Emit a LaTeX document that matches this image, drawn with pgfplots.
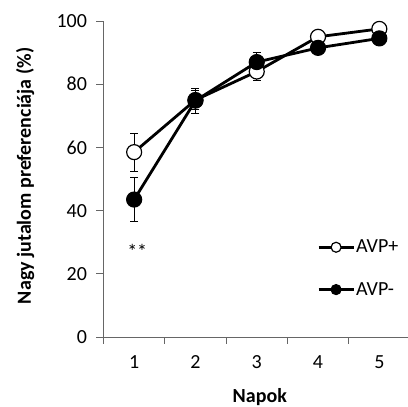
\documentclass[border=0pt]{standalone}
\usepackage{pgfplots}
\pgfplotsset{compat=1.18}
\usepackage{fontspec}
\setmainfont{Carlito}
\begin{document}
\begin{tikzpicture}
\useasboundingbox (-103.5pt,-70pt) rectangle (304.5pt,337pt);
\begin{axis}[
  at={(0pt,0pt)}, anchor=south west,
  scale only axis, width=306.5pt, height=316pt,
  xmin=0.5, xmax=5.5, ymin=0, ymax=100,
  axis x line*=bottom, axis y line*=left,
  axis line style={draw=gray!80!black, line width=0.9pt},
  every tick/.style={draw=gray!80!black, line width=0.9pt},
  tick align=outside,
  xtick={1,2,3,4,5}, major x tick style={draw=none},
  minor xtick={0.5,1.5,2.5,3.5,4.5},
  major tick length=7pt, minor tick length=7pt,
  ytick={0,20,40,60,80,100},
  /pgf/number format/assume math mode=true,
  tick label style={font=\fontsize{20}{24}\selectfont},
  xticklabel style={yshift=-8pt},
  yticklabel style={xshift=-6pt},
  label style={font=\bfseries\fontsize{20}{24}\selectfont},
  xlabel={Napok}, ylabel={Nagy jutalom preferenciája (\%)},
  xlabel style={at={(axis description cs:0.51,-0.207)}, anchor=base},
  ylabel style={at={(axis description cs:-0.256,0.51)}, anchor=center},
  legend style={draw=none, fill=none, at={(axis cs:3.983,21.7)}, anchor=west,
    inner xsep=0pt, inner ysep=0pt,
    font=\fontsize{20}{24}\selectfont, row sep=24pt,
    nodes={inner xsep=1pt}},
  legend cell align=left,
  legend image code/.code={
    \draw[mark repeat=2, mark phase=2, mark size=5pt, line width=2.8pt]
      plot coordinates {(0pt,0pt) (17.5pt,0pt) (35pt,0pt)};
  },
]
\addplot[black, line width=2.8pt, mark=*, mark size=7.5pt,
  mark options={fill=white, draw=black, line width=1.2pt},
  error bars/.cd, y dir=both, y explicit,
  error bar style={line width=0.7pt, black},
  error mark options={rotate=90, mark size=4pt, line width=0.7pt, black}]
  coordinates {
  (1,58.5) +- (0,6)
  (2,75.0) +- (0,3)
  (3,84.0) +- (0,2.8)
  (4,95.0) +- (0,0.8)
  (5,97.5) +- (0,0.6)
  };
\addlegendentry{AVP+}
\addplot[black, line width=2.8pt, mark=*, mark size=7.5pt,
  mark options={fill=black, draw=black, line width=1.2pt},
  error bars/.cd, y dir=both, y explicit,
  error bar style={line width=0.7pt, black},
  error mark options={rotate=90, mark size=4pt, line width=0.7pt, black}]
  coordinates {
  (1,43.5) +- (0,7)
  (2,74.8) +- (0,4)
  (3,87.0) +- (0,3.2)
  (4,91.5) +- (0,0.8)
  (5,94.5) +- (0,0.6)
  };
\addlegendentry{AVP-}
\node[font=\fontsize{20}{24}\selectfont] at (axis cs:1.05,27) {**};
\end{axis}
\end{tikzpicture}
\end{document}
